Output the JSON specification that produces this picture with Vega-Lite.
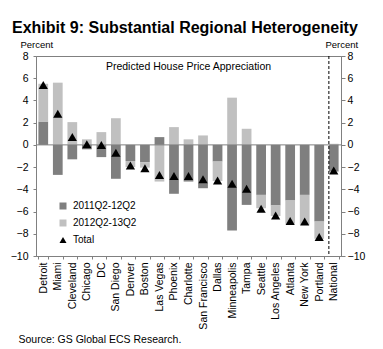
{
  "$schema": "https://vega.github.io/schema/vega-lite/v6.json",
  "width": 305,
  "height": 200,
  "autosize": {"type": "none"},
  "padding": {"left": 36, "top": 56, "right": 42, "bottom": 93},
  "background": "white",
  "config": {
    "font": "Liberation Sans",
    "view": {"stroke": "#808080", "strokeWidth": 1},
    "axis": {"grid": false}
  },
  "title": {
    "text": "Exhibit 9: Substantial Regional Heterogeneity",
    "anchor": "start",
    "frame": "group",
    "fontSize": 16,
    "fontWeight": "bold",
    "font": "Liberation Sans",
    "color": "black",
    "dx": -24,
    "offset": 3
  },
  "data": {
    "values": [
      {"city": "Detroit", "series": "2011Q2-12Q2", "value": 2.1},
      {"city": "Detroit", "series": "2012Q2-13Q2", "value": 3.4},
      {"city": "Detroit", "series": "Total", "value": 5.4},
      {"city": "Miami", "series": "2011Q2-12Q2", "value": -2.7},
      {"city": "Miami", "series": "2012Q2-13Q2", "value": 5.6},
      {"city": "Miami", "series": "Total", "value": 2.8},
      {"city": "Cleveland", "series": "2011Q2-12Q2", "value": -1.3},
      {"city": "Cleveland", "series": "2012Q2-13Q2", "value": 2.05},
      {"city": "Cleveland", "series": "Total", "value": 0.7},
      {"city": "Chicago", "series": "2011Q2-12Q2", "value": -0.4},
      {"city": "Chicago", "series": "2012Q2-13Q2", "value": 0.5},
      {"city": "Chicago", "series": "Total", "value": 0.05},
      {"city": "DC", "series": "2011Q2-12Q2", "value": -1.1},
      {"city": "DC", "series": "2012Q2-13Q2", "value": 1.15},
      {"city": "DC", "series": "Total", "value": 0.0},
      {"city": "San Diego", "series": "2011Q2-12Q2", "value": -3.05},
      {"city": "San Diego", "series": "2012Q2-13Q2", "value": 2.4},
      {"city": "San Diego", "series": "Total", "value": -0.7},
      {"city": "Denver", "series": "2011Q2-12Q2", "value": -1.45},
      {"city": "Denver", "series": "2012Q2-13Q2", "value": -0.55},
      {"city": "Denver", "series": "Total", "value": -1.85},
      {"city": "Boston", "series": "2011Q2-12Q2", "value": -1.55},
      {"city": "Boston", "series": "2012Q2-13Q2", "value": -0.5},
      {"city": "Boston", "series": "Total", "value": -2.1},
      {"city": "Las Vegas", "series": "2011Q2-12Q2", "value": 0.7},
      {"city": "Las Vegas", "series": "2012Q2-13Q2", "value": -3.3},
      {"city": "Las Vegas", "series": "Total", "value": -2.7},
      {"city": "Phoenix", "series": "2011Q2-12Q2", "value": -4.4},
      {"city": "Phoenix", "series": "2012Q2-13Q2", "value": 1.6},
      {"city": "Phoenix", "series": "Total", "value": -2.8},
      {"city": "Charlotte", "series": "2011Q2-12Q2", "value": -3.3},
      {"city": "Charlotte", "series": "2012Q2-13Q2", "value": 0.5},
      {"city": "Charlotte", "series": "Total", "value": -2.8},
      {"city": "San Francisco", "series": "2011Q2-12Q2", "value": -3.9},
      {"city": "San Francisco", "series": "2012Q2-13Q2", "value": 0.85},
      {"city": "San Francisco", "series": "Total", "value": -3.1},
      {"city": "Dallas", "series": "2011Q2-12Q2", "value": -1.5},
      {"city": "Dallas", "series": "2012Q2-13Q2", "value": -1.75},
      {"city": "Dallas", "series": "Total", "value": -3.2},
      {"city": "Minneapolis", "series": "2011Q2-12Q2", "value": -7.7},
      {"city": "Minneapolis", "series": "2012Q2-13Q2", "value": 4.25},
      {"city": "Minneapolis", "series": "Total", "value": -3.5},
      {"city": "Tampa", "series": "2011Q2-12Q2", "value": -5.4},
      {"city": "Tampa", "series": "2012Q2-13Q2", "value": 1.45},
      {"city": "Tampa", "series": "Total", "value": -3.95},
      {"city": "Seattle", "series": "2011Q2-12Q2", "value": -4.5},
      {"city": "Seattle", "series": "2012Q2-13Q2", "value": -1.2},
      {"city": "Seattle", "series": "Total", "value": -5.75},
      {"city": "Los Angeles", "series": "2011Q2-12Q2", "value": -5.45},
      {"city": "Los Angeles", "series": "2012Q2-13Q2", "value": -0.95},
      {"city": "Los Angeles", "series": "Total", "value": -6.35},
      {"city": "Atlanta", "series": "2011Q2-12Q2", "value": -5.0},
      {"city": "Atlanta", "series": "2012Q2-13Q2", "value": -2.1},
      {"city": "Atlanta", "series": "Total", "value": -6.85},
      {"city": "New York", "series": "2011Q2-12Q2", "value": -4.5},
      {"city": "New York", "series": "2012Q2-13Q2", "value": -2.7},
      {"city": "New York", "series": "Total", "value": -6.9},
      {"city": "Portland", "series": "2011Q2-12Q2", "value": -6.9},
      {"city": "Portland", "series": "2012Q2-13Q2", "value": -1.55},
      {"city": "Portland", "series": "Total", "value": -8.3},
      {"city": "National", "series": "2011Q2-12Q2", "value": -2.4},
      {"city": "National", "series": "2012Q2-13Q2", "value": 0.1},
      {"city": "National", "series": "Total", "value": -2.3}
    ]
  },
  "layer": [
    {
      "transform": [{"filter": "datum.series !== 'Total'"}],
      "mark": {"type": "bar"},
      "encoding": {
        "x": {
          "field": "city",
          "type": "nominal",
          "sort": null,
          "scale": {"paddingInner": 0.33, "paddingOuter": 0.165},
          "axis": {
            "labelAngle": -90,
            "labelAlign": "right",
            "labelBaseline": "middle",
            "labelFontSize": 10.5,
            "labelColor": "black",
            "labelPadding": 3,
            "tickBand": "extent",
            "tickSize": 3,
            "tickColor": "#808080",
            "domainColor": "#808080",
            "title": "Source: GS Global ECS Research.",
            "titleAnchor": "start",
            "titleAlign": "left",
            "titleBaseline": "alphabetic",
            "titleX": -18,
            "titleY": 86,
            "titleFontSize": 10.5,
            "titleFontWeight": "normal",
            "titleColor": "black"
          }
        },
        "y": {
          "field": "value",
          "type": "quantitative",
          "stack": "zero",
          "scale": {"domain": [-10, 8], "nice": false},
          "axis": {
            "orient": "left",
            "values": [-10, -8, -6, -4, -2, 0, 2, 4, 6, 8],
            "labelFontSize": 10.5,
            "labelColor": "black",
            "labelPadding": 5,
            "tickSize": 3,
            "tickColor": "#808080",
            "domainColor": "#808080",
            "title": "Percent",
            "titleAngle": 0,
            "titleAlign": "left",
            "titleBaseline": "alphabetic",
            "titleX": -16,
            "titleY": -9,
            "titleFontSize": 9.5,
            "titleFontWeight": "normal",
            "titleColor": "black"
          }
        },
        "color": {
          "field": "series",
          "type": "nominal",
          "scale": {"domain": ["2011Q2-12Q2", "2012Q2-13Q2", "Total"], "range": ["#7f7f7f", "#c0c0c0", "#000000"]},
          "legend": {
            "orient": "none",
            "legendX": 22,
            "legendY": 145,
            "title": null,
            "labelFontSize": 10,
            "labelColor": "black",
            "symbolSize": 49,
            "labelOffset": 5,
            "rowPadding": 7,
            "symbolStrokeWidth": 0
          }
        },
        "order": {"field": "series", "sort": "ascending"}
      }
    },
    {
      "data": {"values": [{"level": 0}]},
      "mark": {"type": "rule", "color": "#808080", "strokeWidth": 1},
      "encoding": {"y": {"field": "level", "type": "quantitative", "axis": null}}
    },
    {
      "transform": [{"filter": "datum.series === 'Total' && datum.city === 'National'"}],
      "mark": {"type": "rule", "color": "black", "strokeWidth": 1, "strokeDash": [3, 2]},
      "encoding": {"x": {"field": "city", "type": "nominal", "sort": null, "bandPosition": 0}}
    },
    {
      "transform": [{"filter": "datum.series === 'Total'"}],
      "mark": {"type": "point", "filled": true, "opacity": 1, "size": 85},
      "encoding": {
        "x": {"field": "city", "type": "nominal", "sort": null},
        "y": {
          "field": "value",
          "type": "quantitative",
          "axis": {
            "orient": "right",
            "values": [-10, -8, -6, -4, -2, 0, 2, 4, 6, 8],
            "labelFontSize": 10.5,
            "labelColor": "black",
            "labelPadding": 2,
            "tickSize": 4,
            "tickColor": "#808080",
            "domainColor": "#808080",
            "title": "Percent",
            "titleAngle": 0,
            "titleAlign": "left",
            "titleBaseline": "alphabetic",
            "titleX": -16,
            "titleY": -9,
            "titleFontSize": 9.5,
            "titleFontWeight": "normal",
            "titleColor": "black"
          }
        },
        "color": {"field": "series", "type": "nominal"},
        "shape": {
          "field": "series",
          "type": "nominal",
          "scale": {"domain": ["2011Q2-12Q2", "2012Q2-13Q2", "Total"], "range": ["square", "square", "triangle-up"]}
        }
      }
    },
    {
      "data": {"values": [{"label": "Predicted House Price Appreciation"}]},
      "mark": {"type": "text", "fontSize": 10.5, "color": "black", "align": "center", "baseline": "middle"},
      "encoding": {
        "x": {"datum": "Charlotte", "type": "nominal"},
        "y": {"datum": 7.0, "type": "quantitative", "axis": null},
        "text": {"field": "label"}
      }
    }
  ],
  "resolve": {"axis": {"y": "independent"}}
}
